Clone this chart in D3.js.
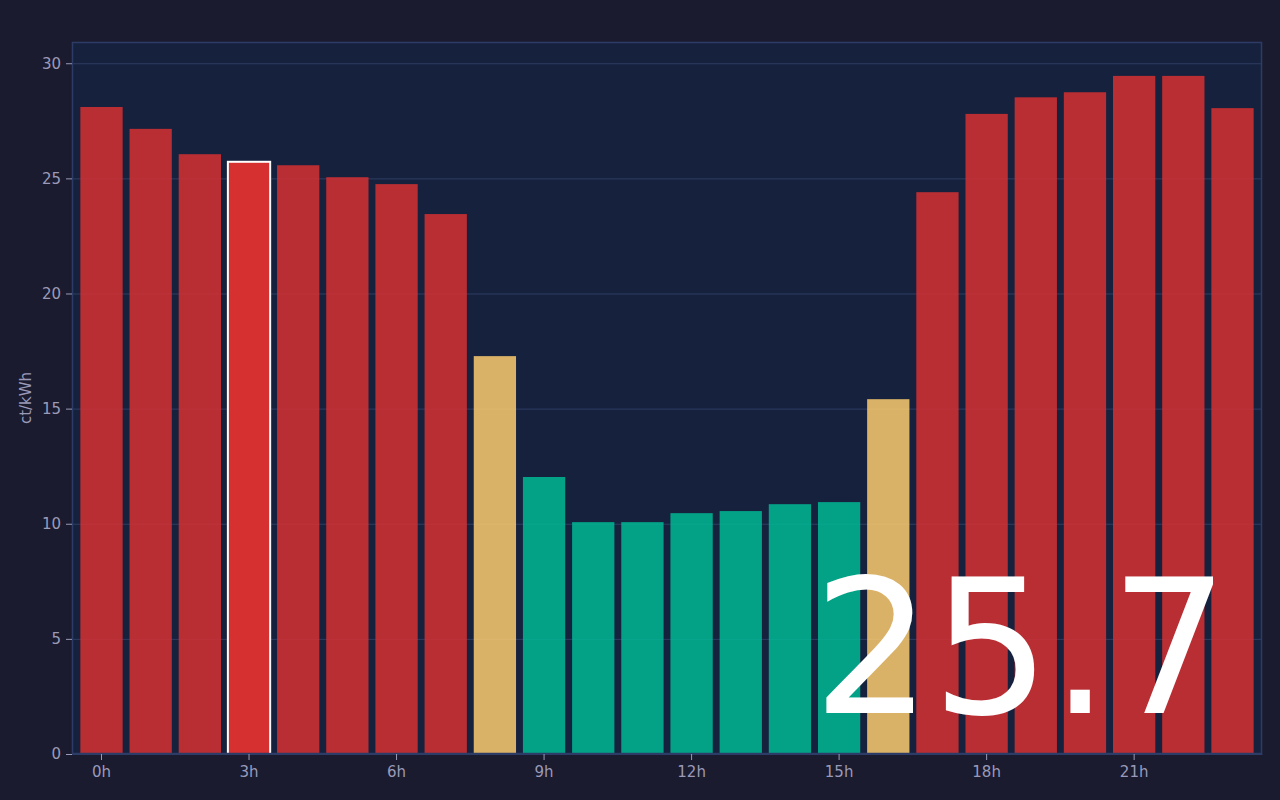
<!DOCTYPE html>
<html>
<head>
    <script src="https://d3js.org/d3.v7.min.js" charset="utf-8"></script>
    <style>
        body { margin: 0; background: #1b1b2f; }
        text { font-family: "DejaVu Sans", sans-serif; }
    </style>
</head>
<body>
   <script>
        // hourly prices, ct/kWh
        var hours = d3.range(24)
        var prices = [28.1, 27.15, 26.05, 25.72, 25.57, 25.05, 24.75, 23.45,
                      17.28, 12.03, 10.07, 10.07, 10.46, 10.55, 10.85, 10.94,
                      15.41, 24.4, 27.8, 28.52, 28.74, 29.45, 29.45, 28.05]
        var levels = ["high", "high", "high", "high", "high", "high", "high", "high",
                      "mid", "low", "low", "low", "low", "low", "low", "low",
                      "mid", "high", "high", "high", "high", "high", "high", "high"]
        var yTicks = [0, 5, 10, 15, 20, 25, 30]
        var current = 3

        var colors = { high: "#d63031", mid: "#fdcb6e", low: "#00b894" }

        var W = 1280, H = 800
        var m = { top: 42, right: 18, bottom: 46, left: 72 }

        var svg = d3.select("body")
            .append("svg")
            .attr("width", W)
            .attr("height", H)
            .style("display", "block")
            .style("background", "#1b1b2f")

        var x = d3.scaleBand()
            .domain(hours)
            .range([m.left, W - m.right])
            .paddingInner(0.14)
            .paddingOuter(0.17)
        var y = d3.scaleLinear()
            .domain([0, d3.max(prices) * 1.05])
            .range([H - m.bottom, m.top])

        // plot background
        svg.append("rect")
            .attr("x", m.left)
            .attr("y", m.top)
            .attr("width", W - m.left - m.right)
            .attr("height", H - m.top - m.bottom)
            .style("fill", "#16213e")

        // grid
        svg.append("g")
            .selectAll("line")
            .data(yTicks)
            .enter()
            .append("line")
            .attr("x1", m.left)
            .attr("x2", W - m.right)
            .attr("y1", function (d) { return y(d) + 0.5; })
            .attr("y2", function (d) { return y(d) + 0.5; })
            .style("stroke", "#2e3d62")
            .style("stroke-width", 1)

        // bars
        svg.append("g")
            .selectAll("rect")
            .data(prices)
            .enter()
            .append("rect")
            .attr("x", function (d, i) { return x(i); })
            .attr("y", function (d) { return y(d); })
            .attr("width", x.bandwidth())
            .attr("height", function (d) { return y(0) - y(d); })
            .style("fill", function (d, i) { return colors[levels[i]]; })
            .style("opacity", function (d, i) { return i === current ? 1 : 0.85; })
            .style("stroke", function (d, i) { return i === current ? "#ffffff" : "none"; })
            .style("stroke-width", 2)

        // frame
        svg.append("rect")
            .attr("x", m.left + 0.5)
            .attr("y", m.top + 0.5)
            .attr("width", W - m.left - m.right - 1)
            .attr("height", H - m.top - m.bottom - 1)
            .style("fill", "none")
            .style("stroke", "#2c3c66")
            .style("stroke-width", 1.5)

        // axes
        var xAxis = svg.append("g")
            .attr("transform", "translate(0," + (H - m.bottom) + ")")
            .call(d3.axisBottom(x)
                .tickValues(hours.filter(function (h) { return h % 3 === 0; }))
                .tickFormat(function (h) { return h + "h"; })
                .tickSizeOuter(0)
                .tickPadding(6))
        var yAxis = svg.append("g")
            .attr("transform", "translate(" + m.left + ",0)")
            .call(d3.axisLeft(y).tickValues(yTicks).tickSizeOuter(0).tickPadding(5))

        ;[xAxis, yAxis].forEach(function (g) {
            g.select(".domain").style("stroke", "#2c3c66")
            g.selectAll(".tick line").style("stroke", "#9a9ab8")
            g.selectAll(".tick text")
                .style("fill", "#9a9ab8")
                .style("font-size", "15px")
                .style("font-family", "DejaVu Sans, sans-serif")
        })

        svg.append("text")
            .attr("transform", "translate(31," + ((m.top + H - m.bottom) / 2) + ") rotate(-90)")
            .attr("text-anchor", "middle")
            .style("fill", "#9a9ab8")
            .style("font-size", "15px")
            .text("ct/kWh")

        // current price
        svg.append("text")
            .attr("x", 1229)
            .attr("y", 713)
            .attr("text-anchor", "end")
            .style("fill", "#ffffff")
            .style("font-size", "187px")
            .text(prices[current].toFixed(1))
    </script>
</body>
</html>
